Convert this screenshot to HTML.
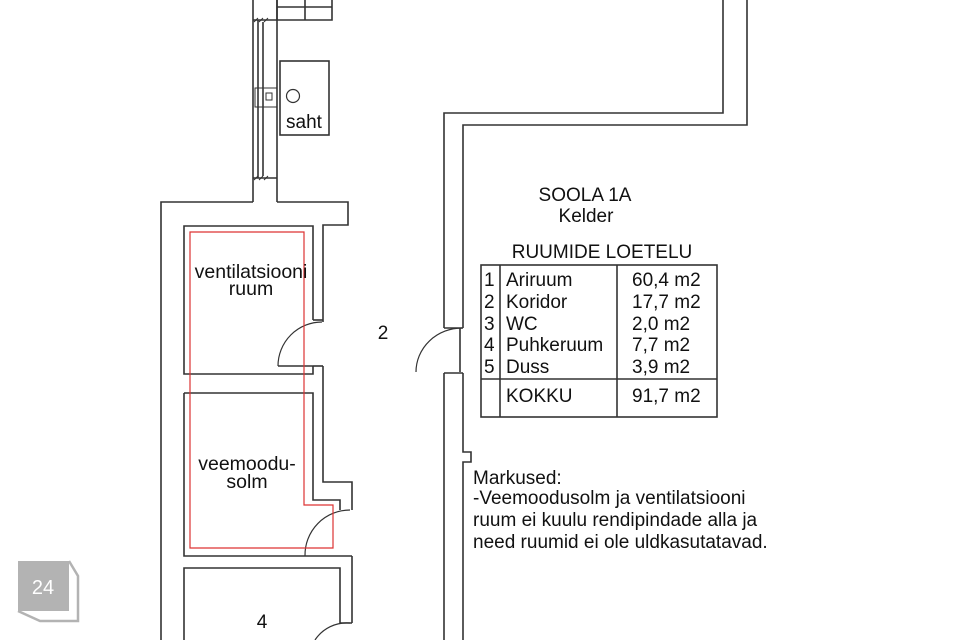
<!DOCTYPE html>
<html><head><meta charset="utf-8"><style>
html,body{margin:0;padding:0;background:#fff;}
svg{display:block;}
text{font-family:"Liberation Sans",sans-serif;fill:#111;}
</style></head><body>
<svg width="960" height="640" viewBox="0 0 960 640" xmlns="http://www.w3.org/2000/svg">
<g fill="none" stroke="#333" stroke-width="1.6">
<line x1="253" y1="0" x2="253" y2="202"/>
<line x1="277" y1="0" x2="277" y2="202"/>
<line x1="258" y1="20" x2="258" y2="178"/>
<line x1="263" y1="22" x2="263" y2="176"/>
<path d="M277 0 V20 H332 V0 M277 7 H332 M305 0 V20"/>
<path d="M253 20 H277 M253 178 H277"/>
<path d="M254 22 l4 -4 M259 22 l4 -4 M264 22 l4 -4 M254 180 l4 -4 M259 180 l4 -4 M264 180 l4 -4" stroke-width="1"/>
<rect x="255" y="88" width="22" height="19" stroke-width="1"/>
<rect x="266" y="93" width="6" height="7" stroke-width="1"/>
<rect x="280" y="61" width="49" height="74"/>
<circle cx="293" cy="96" r="6.5" stroke-width="1.2"/>
<path d="M253 202 H161 V640"/>
<path d="M277 202 H348 V225 H323 V322"/>
<path d="M323 366 V482 H352 V510"/>
<path d="M352 556 V623"/>
<path d="M313 320 V226 H184 V374 H313 V366"/>
<line x1="313" y1="320" x2="323" y2="320"/>
<line x1="313" y1="366" x2="323" y2="366"/>
<path d="M278 366 H313" />
<path d="M278 366 A44 44 0 0 1 322 322" stroke-width="1.2"/>
<path d="M184 393 H313 V500 H340 V510"/>
<path d="M184 393 V556 H352"/>
<path d="M305 556 A45 45 0 0 1 350 510" stroke-width="1.2"/>
<path d="M184 640 V568 H340 V623 H352"/>
<path d="M315 640 A38 38 0 0 1 350 623" stroke-width="1.2"/>
<path d="M444 640 V373 M444 328 V113 H723 V0"/>
<path d="M463 640 V462 H471 V452 H463 V373 M463 328 V125 H747 V0"/>
<path d="M444 328 H463 M444 373 H463 M460 328 V372"/>
<path d="M416 372 A46 44 0 0 1 462 328" stroke-width="1.2"/>
<rect x="481" y="265" width="236" height="152"/>
<line x1="500" y1="265" x2="500" y2="417"/>
<line x1="617" y1="265" x2="617" y2="417"/>
<line x1="481" y1="379" x2="717" y2="379"/>
</g>
<path d="M190 232 H304 V505 H333 V548 H190 Z" fill="none" stroke="#d33" stroke-width="1.2"/>
<g font-size="19">
<text x="304" y="128" text-anchor="middle">saht</text>
<text x="251" y="278" text-anchor="middle" font-size="19.5">ventilatsiooni</text>
<text x="251" y="295" text-anchor="middle" font-size="19.5">ruum</text>
<text x="247" y="470" text-anchor="middle" font-size="19.5">veemoodu-</text>
<text x="247" y="488" text-anchor="middle" font-size="19.5">solm</text>
<text x="262" y="628" text-anchor="middle">4</text>
<text x="383" y="339" text-anchor="middle">2</text>
<text x="585" y="201" text-anchor="middle">SOOLA 1A</text>
<text x="586" y="222" text-anchor="middle">Kelder</text>
<text x="602" y="258" text-anchor="middle">RUUMIDE LOETELU</text>
<text x="484" y="286">1</text><text x="506" y="286">Ariruum</text><text x="632" y="286">60,4 m2</text>
<text x="484" y="308">2</text><text x="506" y="308">Koridor</text><text x="632" y="308">17,7 m2</text>
<text x="484" y="330">3</text><text x="506" y="330">WC</text><text x="632" y="330">2,0 m2</text>
<text x="484" y="351">4</text><text x="506" y="351">Puhkeruum</text><text x="632" y="351">7,7 m2</text>
<text x="484" y="373">5</text><text x="506" y="373">Duss</text><text x="632" y="373">3,9 m2</text>
<text x="506" y="402">KOKKU</text><text x="632" y="402">91,7 m2</text>
<text x="473" y="484">Markused:</text>
<text x="473" y="504">-Veemoodusolm ja ventilatsiooni</text>
<text x="473" y="526">ruum ei kuulu rendipindade alla ja</text>
<text x="473" y="548">need ruumid ei ole uldkasutatavad.</text>
</g>
<rect x="18" y="561" width="51" height="50" fill="#b3b3b3"/>
<path d="M69 561 L78 576 V621 H40 L18 611" fill="none" stroke="#b3b3b3" stroke-width="2.5"/>
<text x="43" y="594" font-size="20" text-anchor="middle" style="fill:#fff">24</text>
</svg>
</body></html>
